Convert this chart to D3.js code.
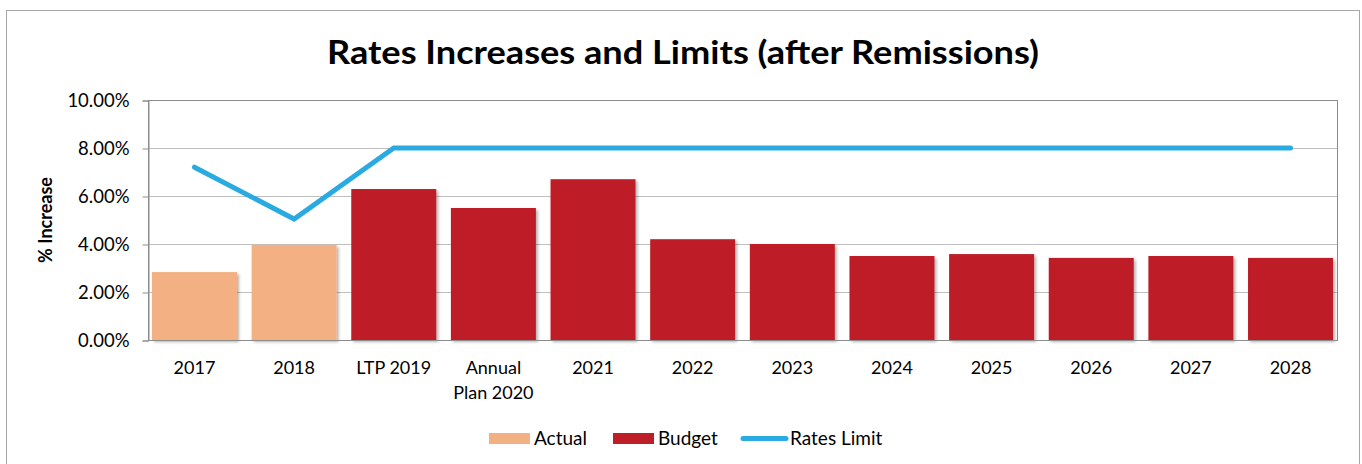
<!DOCTYPE html>
<html>
<head>
<meta charset="utf-8">
<script src="https://cdn.jsdelivr.net/npm/d3@7"></script>
<style>
  body { margin: 0; background: #fff; }
  text { font-family: Lato, "Open Sans", sans-serif; fill: #000; }
</style>
</head>
<body>
<script>
// chart data
var categories = ["2017", "2018", "LTP 2019", "Annual Plan 2020", "2021", "2022", "2023", "2024", "2025", "2026", "2027", "2028"];
var increases = [2.83, 3.96, 6.29, 5.5, 6.7, 4.2, 4.0, 3.5, 3.58, 3.42, 3.5, 3.42];
var kinds = ["Actual", "Actual", "Budget", "Budget", "Budget", "Budget", "Budget", "Budget", "Budget", "Budget", "Budget", "Budget"];
var ratesLimit = [7.2, 5.04, 8, 8, 8, 8, 8, 8, 8, 8, 8, 8];
var yTicks = [0, 2, 4, 6, 8, 10];

var w = 1362, h = 464;
var colors = { Actual: "#f3b183", Budget: "#be1e27", line: "#29abe2" };

var svg = d3.select("body").append("svg")
    .attr("width", w)
    .attr("height", h);

// shadow for bars
var defs = svg.append("defs");
var f = defs.append("filter").attr("id", "shadow")
    .attr("x", "-10%").attr("y", "-10%").attr("width", "130%").attr("height", "130%");
f.append("feDropShadow").attr("dx", 2).attr("dy", 2).attr("stdDeviation", 1.5)
    .attr("flood-color", "#000").attr("flood-opacity", 0.3);

// outer chart border
svg.append("rect")
    .attr("x", 6.5).attr("y", 10.5)
    .attr("width", 1353).attr("height", 470)
    .attr("fill", "none").attr("stroke", "#a6a6a6");

svg.append("text")
    .attr("x", 683).attr("y", 64)
    .attr("text-anchor", "middle")
    .attr("textLength", 712).attr("lengthAdjust", "spacingAndGlyphs")
    .style("font-size", "33px").style("font-weight", "bold")
    .text("Rates Increases and Limits (after Remissions)");

var pLeft = 148, pRight = 1337, pTop = 100, pBottom = 340;

var x = d3.scaleBand().domain(categories).range([pLeft, pRight]).paddingInner(0.147).paddingOuter(0.04);
var y = d3.scaleLinear().domain([0, 10]).range([pBottom, pTop]);

// gridlines
svg.append("g").selectAll("line").data(yTicks).enter().append("line")
    .attr("x1", pLeft).attr("x2", pRight)
    .attr("y1", function(d){ return Math.round(y(d)) + 0.5; })
    .attr("y2", function(d){ return Math.round(y(d)) + 0.5; })
    .attr("stroke", "#bfbfbf");

// plot area frame
svg.append("rect")
    .attr("x", pLeft + 0.5).attr("y", pTop + 0.5)
    .attr("width", pRight - pLeft).attr("height", pBottom - pTop)
    .attr("fill", "none").attr("stroke", "#8c8c8c");

// y axis
var yAxis = d3.axisLeft(y).tickValues(yTicks).tickSize(6).tickPadding(13)
    .tickFormat(function(d){ return d.toFixed(2) + "%"; });
var gy = svg.append("g").attr("transform", "translate(" + (pLeft + 0.5) + ",0.5)").call(yAxis);
gy.select(".domain").attr("stroke", "#8c8c8c");
gy.selectAll(".tick line").attr("stroke", "#8c8c8c");
gy.selectAll(".tick text").style("font-size", "18.5px").attr("fill", "#000")
    .style("font-family", "Lato, 'Open Sans', sans-serif");

svg.append("text")
    .attr("transform", "translate(52," + ((pTop + pBottom) / 2) + ") rotate(-90)")
    .attr("text-anchor", "middle")
    .style("font-size", "18px").style("font-weight", "bold")
    .text("% Increase");

// bars
svg.append("g").selectAll("rect").data(categories).enter().append("rect")
    .attr("x", function(d){ return x(d); })
    .attr("y", function(d, i){ return y(increases[i]); })
    .attr("width", x.bandwidth())
    .attr("height", function(d, i){ return pBottom - y(increases[i]); })
    .attr("fill", function(d, i){ return colors[kinds[i]]; })
    .attr("filter", "url(#shadow)");

// bottom axis line
svg.append("line")
    .attr("x1", pLeft).attr("x2", pRight)
    .attr("y1", pBottom + 0.5).attr("y2", pBottom + 0.5)
    .attr("stroke", "#8c8c8c");

// category labels
svg.append("g").selectAll("text").data(categories).enter().append("text")
    .attr("x", function(d){ return x(d) + x.bandwidth() / 2; })
    .attr("y", 374)
    .attr("text-anchor", "middle")
    .style("font-size", "18px")
    .each(function(d){
        var t = d3.select(this);
        var parts = d == "Annual Plan 2020" ? ["Annual", "Plan 2020"] : [d];
        parts.forEach(function(p, k){
            t.append("tspan").attr("x", t.attr("x")).attr("dy", k ? 25 : 0).text(p);
        });
    });

// rates limit line
var line = d3.line()
    .x(function(d, i){ return x(categories[i]) + x.bandwidth() / 2; })
    .y(function(d){ return y(d); });
svg.append("path").datum(ratesLimit)
    .attr("d", line)
    .attr("fill", "none")
    .attr("stroke", colors.line)
    .attr("stroke-width", 5)
    .attr("stroke-linecap", "round")
    .attr("stroke-linejoin", "miter");

// legend
var lg = svg.append("g").attr("transform", "translate(0,438)");
lg.append("rect").attr("x", 489).attr("y", -5).attr("width", 41).attr("height", 11).attr("fill", colors.Actual);
lg.append("text").attr("x", 534).attr("y", 7).style("font-size", "19px").text("Actual");
lg.append("rect").attr("x", 613).attr("y", -5).attr("width", 41).attr("height", 11).attr("fill", colors.Budget);
lg.append("text").attr("x", 658).attr("y", 7).style("font-size", "19px").text("Budget");
lg.append("line").attr("x1", 743).attr("x2", 786).attr("y1", 0.5).attr("y2", 0.5)
    .attr("stroke", colors.line).attr("stroke-width", 5).attr("stroke-linecap", "round");
lg.append("text").attr("x", 790).attr("y", 7).style("font-size", "19px").text("Rates Limit");
</script>
</body>
</html>
